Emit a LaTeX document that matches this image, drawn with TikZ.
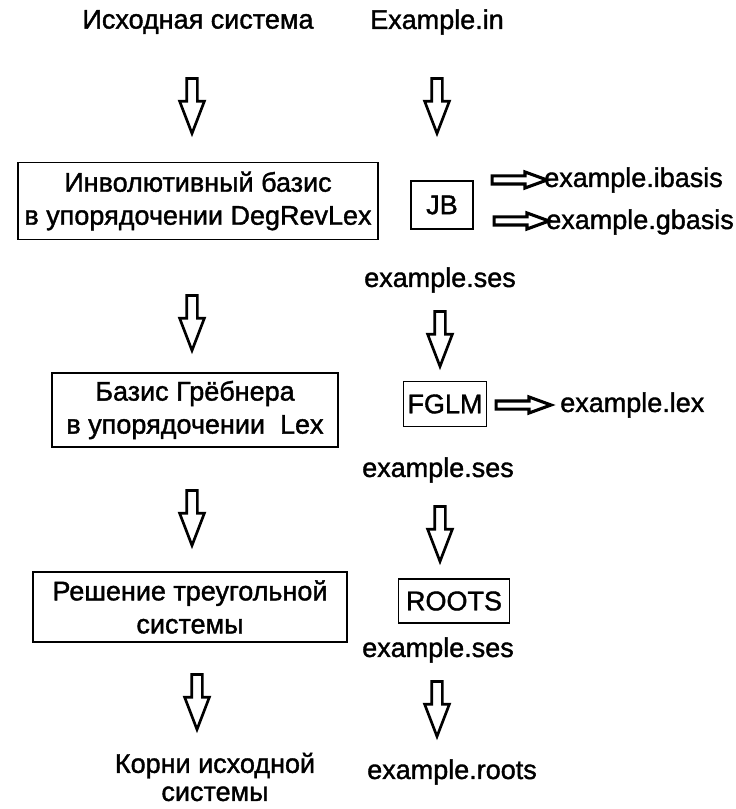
\documentclass[tikz,border=0pt]{standalone}
\usepackage{fontspec}
\setmainfont{Liberation Sans}[FakeBold=1.4]
\usetikzlibrary{shapes.arrows}
\begin{document}
\begin{tikzpicture}[x=0.25mm,y=-0.25mm,
  every node/.style={font=\fontsize{19.2}{23.5}\selectfont,inner sep=0pt},
  stage/.style={draw,line width=0.8pt,align=center},
  downarr/.style={single arrow,draw,line width=1.9pt,rotate=-90,inner xsep=0pt,inner ysep=1mm,
    minimum height=13.75mm,single arrow head extend=1.75mm,single arrow tip angle=42},
  rightarr/.style={single arrow,draw,line width=2.2pt,inner xsep=0pt,inner ysep=0.625mm,
    minimum height=13.75mm,single arrow head extend=1mm,single arrow tip angle=40}]
\useasboundingbox (0,0) rectangle (735,809);
% left column: stages
\node (src) at (198,22) {Исходная система};
\node[downarr] (srcarr) at (192,99) {};
\node[stage,minimum width=90mm,minimum height=19.25mm] (inv) at (198,201) {Инволютивный базис\\в упорядочении DegRevLex};
\node[downarr] (invarr) at (192,316) {};
\node[stage,minimum width=71.5mm,minimum height=18.5mm] (grob) at (195,410) {Базис Грёбнера\\в упорядочении\ \ Lex};
\node[downarr] (grobarr) at (192,511) {};
\node[stage,minimum width=78.5mm,minimum height=17.5mm] (tri) at (190,607) {Решение треугольной\\системы};
\node[downarr] (triarr) at (197,695) {};
\node[align=center,font=\fontsize{19.2}{20}\selectfont] (res) at (215,777) {Корни исходной\\системы};
% right column: programs and files
\node (in) at (437,22) {Example.in};
\node[downarr] (inarr) at (437,99) {};
\node[stage,minimum width=15.5mm,minimum height=12mm] (jb) at (442,205) {JB};
\node[rightarr] (jbarr1) at (514,180) {};
\node[anchor=west] (ibasis) at (544,180) {example.ibasis};
\node[rightarr] (jbarr2) at (516,221) {};
\node[anchor=west] (gbasis) at (546,222) {example.gbasis};
\node (ses1) at (440,280) {example.ses};
\node[downarr] (ses1arr) at (440,332) {};
\node[stage,minimum width=20.75mm,minimum height=11.25mm] (fglm) at (445,404) {FGLM};
\node[rightarr] (fglmarr) at (518,405) {};
\node[anchor=west] (lex) at (560,405) {example.lex};
\node (ses2) at (438,470) {example.ses};
\node[downarr] (ses2arr) at (440,527) {};
\node[stage,minimum width=27.75mm,minimum height=11mm] (roots) at (454,601) {ROOTS};
\node (ses3) at (438,650) {example.ses};
\node[downarr] (ses3arr) at (437,702) {};
\node (out) at (452,772) {example.roots};
\end{tikzpicture}
\end{document}
